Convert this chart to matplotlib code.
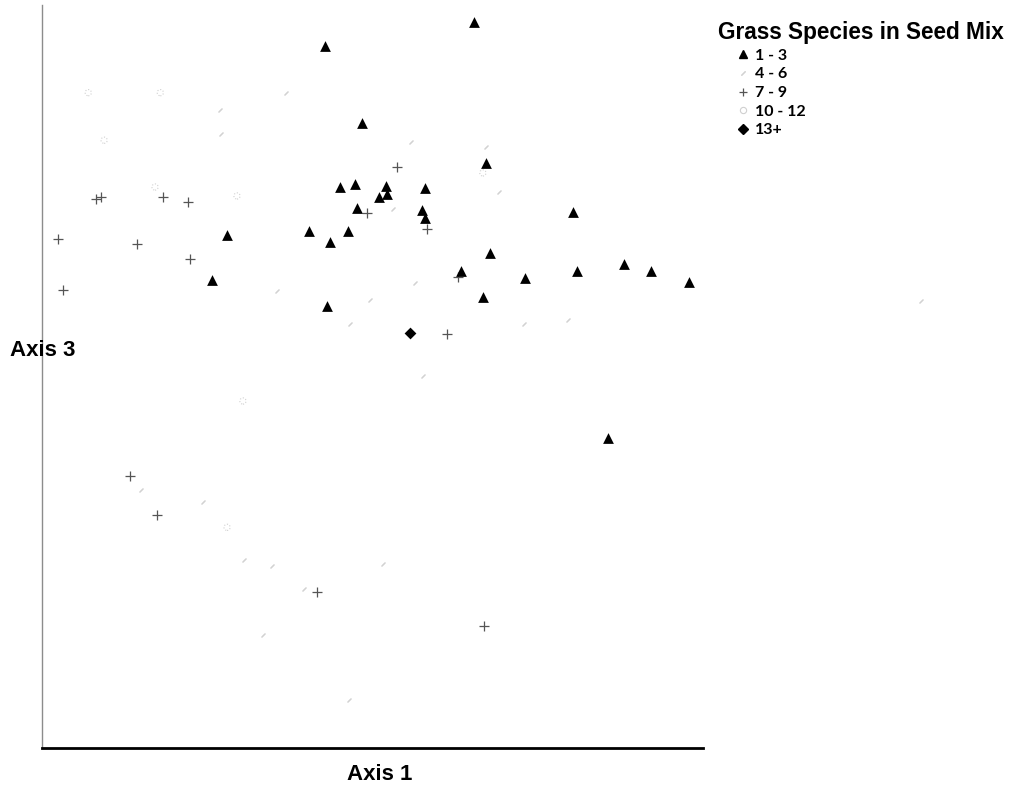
import matplotlib
matplotlib.use("Agg")
import matplotlib.pyplot as plt
from matplotlib.lines import Line2D

# Ordination scores (Axis 1, Axis 3) grouped by number of grass species in the seed mix
mix_labels = ["1 - 3", "4 - 6", "7 - 9", "10 - 12", "13+"]

g1_x = [6.54, 4.28, 4.84, 6.72, 4.51, 4.74, 5.20, 5.22, 5.10, 5.79, 4.77, 5.75, 5.79,
        4.04, 4.63, 4.36, 2.80, 2.57, 8.03, 6.78, 6.34, 6.67, 4.31, 7.31, 8.09, 8.80,
        9.21, 9.79, 8.56]
g1_y = [9.77, 9.45, 8.41, 7.87, 7.55, 7.59, 7.56, 7.46, 7.42, 7.54, 7.27, 7.24, 7.13,
        6.96, 6.96, 6.81, 6.90, 6.30, 7.21, 6.66, 6.42, 6.07, 5.95, 6.33, 6.42, 6.51,
        6.42, 6.27, 4.17]

g2_x = [2.69, 2.71, 3.69, 3.56, 5.58, 6.72, 6.91, 5.31, 5.64, 4.96, 4.66, 7.29, 7.96,
        5.76, 1.50, 2.44, 3.06, 3.48, 5.16, 3.96, 3.34, 4.64, 13.30]
g2_y = [8.59, 8.26, 8.82, 6.15, 8.16, 8.09, 7.48, 7.25, 6.26, 6.03, 5.71, 5.71, 5.76,
        5.01, 3.47, 3.31, 2.53, 2.45, 2.48, 2.14, 1.52, 0.65, 6.02]

g3_x = [0.24, 0.32, 0.82, 0.89, 1.83, 2.21, 1.44, 2.24, 5.37, 4.92, 5.82, 6.29, 6.13,
        1.33, 1.74, 4.16, 6.69]
g3_y = [6.85, 6.16, 7.39, 7.42, 7.42, 7.35, 6.78, 6.58, 7.82, 7.20, 6.99, 6.34, 5.57,
        3.66, 3.14, 2.10, 1.64]

g4_x = [0.70, 1.79, 0.94, 1.71, 2.95, 6.67, 2.80, 3.04]
g4_y = [8.82, 8.82, 8.18, 7.55, 7.43, 7.74, 2.97, 4.67]

g5_x = [5.57]
g5_y = [5.59]

W, H = 1013, 789
fig = plt.figure(figsize=(W / 100, H / 100), dpi=100)
ax = fig.add_axes([42 / W, 41 / H, 661 / W, 743 / H])

c_slash = "#d2d2d2"
c_ring = "#d0d0d0"
c_cross = "#555555"

ax.scatter(g2_x, g2_y, marker=(2, 2, -45), s=10, c=c_slash, linewidths=0.8,
           clip_on=False, zorder=2)
ax.scatter(g4_x, g4_y, marker="o", s=20, facecolors="none", edgecolors=c_ring,
           linewidths=0.8, linestyles=":", clip_on=False, zorder=2)
ax.scatter(g3_x, g3_y, marker="+", s=55, c=c_cross, linewidths=0.9,
           clip_on=False, zorder=3)
ax.scatter(g1_x, g1_y, marker="^", s=60, c="black", linewidths=0,
           clip_on=False, zorder=4)
ax.scatter(g5_x, g5_y, marker="D", s=36, c="black", linewidths=0,
           clip_on=False, zorder=4)

ax.set_xlim(0, 10)
ax.set_ylim(0, 10)
ax.set_xticks([])
ax.set_yticks([])
for side in ("top", "right"):
    ax.spines[side].set_visible(False)
ax.spines["left"].set_color("#8c8c8c")
ax.spines["left"].set_linewidth(1.0)
ax.spines["bottom"].set_color("black")
ax.spines["bottom"].set_linewidth(2.0)

axis_font = dict(family="Liberation Sans", weight="bold", fontsize=16)
fig.text(43 / W, 1 - 350 / H, "Axis 3", ha="center", va="center", **axis_font)
fig.text(380 / W, 1 - 775 / H, "Axis 1", ha="center", va="center", **axis_font)

handles = [
    Line2D([], [], ls="none", marker="^", ms=6, mfc="black", mec="black"),
    Line2D([], [], ls="none", marker=(2, 2, -45), ms=4, mec=c_slash, mew=0.8),
    Line2D([], [], ls="none", marker="+", ms=6, mec=c_cross, mew=0.9),
    Line2D([], [], ls="none", marker="o", ms=4.5, mfc="none", mec=c_ring, mew=0.8),
    Line2D([], [], ls="none", marker="D", ms=5, mfc="black", mec="black"),
]
leg = fig.legend(handles, mix_labels, title="Grass Species in Seed Mix",
                 loc="upper left", bbox_to_anchor=(707 / W, 1 - 10 / H),
                 frameon=False, alignment="left",
                 prop=dict(family="Lato", weight="bold", size=11.5),
                 title_fontproperties=dict(family="Liberation Sans", weight="bold", size=16.3),
                 handlelength=3.1, handletextpad=-0.8, labelspacing=0.28,
                 borderpad=0.2)

fig.savefig("out.png", dpi=100)
